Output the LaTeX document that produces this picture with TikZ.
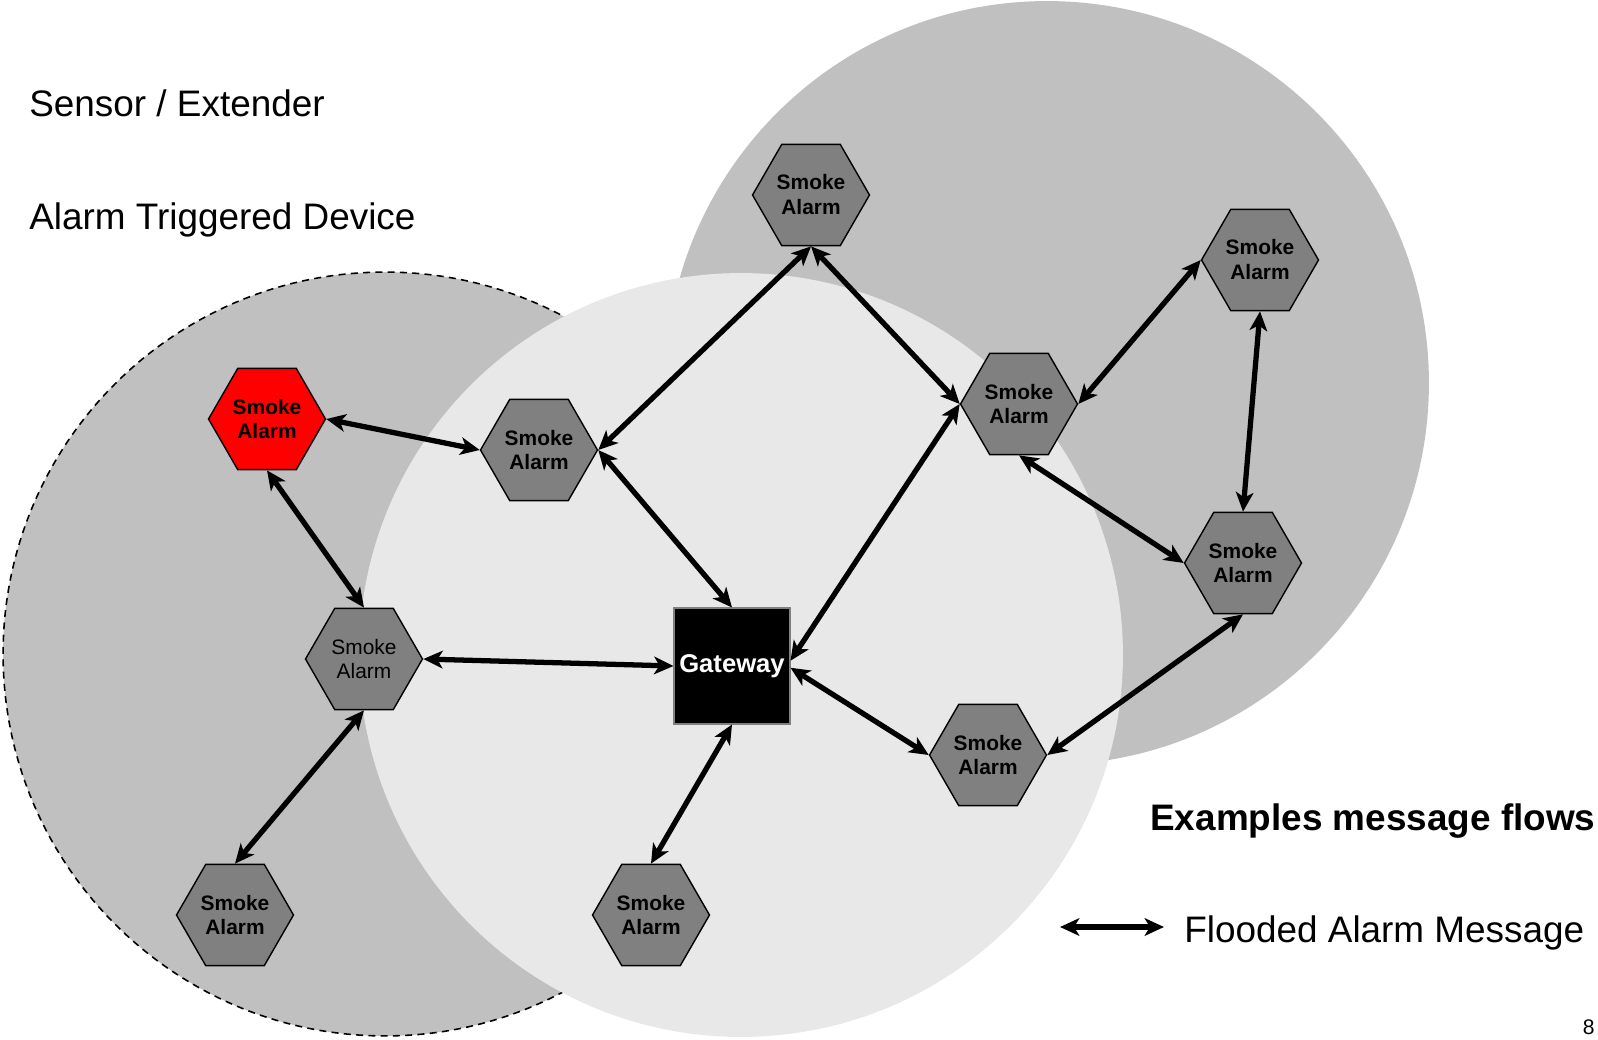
\documentclass[tikz,border=0pt]{standalone}
\usepackage{fontspec}
\setmainfont{Liberation Sans}
\usepackage{tikz}
\usetikzlibrary{arrows.meta, shapes.geometric}
\usepackage{xcolor}

\definecolor{zonedark}{HTML}{C0C0C0}
\definecolor{zonelight}{HTML}{E8E8E8}
\definecolor{hexgray}{HTML}{808080}

\begin{document}
\begin{tikzpicture}[
    x = 0.02cm, y = -0.02cm,
    hex/.style = {
        regular polygon, regular polygon sides = 6,
        draw = black, line width = 0.8pt,
        fill = hexgray,
        minimum size = 2.34cm,
        inner sep    = 0pt,
        align        = center,
        font = \fontsize{11.9}{14.2}\selectfont\bfseries
    },
    hexplain/.style = { hex, font = \fontsize{11.9}{14.2}\selectfont },
    hexalarm/.style = { hex, fill = red },
    gateway/.style  = {
        rectangle, draw = hexgray, line width = 0.6pt, fill = black,
        minimum size = 2.32cm, inner sep = 0pt,
        text = white, font = \fontsize{14.6}{17}\selectfont\bfseries
    },
    flow/.style = {
        <->, >={Stealth[length=11pt, width=10pt, inset=3pt]},
        line width = 3pt
    },
    legendtext/.style = {
        anchor = base west, inner sep = 0pt,
        font = \fontsize{21}{25}\selectfont
    },
]

\useasboundingbox (0,0) rectangle (1598,1040);

%% ── Coverage zones ───────────────────────────────────────────────────────
\fill[zonedark] (1047,383) circle[radius=7.64cm];
\filldraw[fill=zonedark, draw=black, line width=0.9pt, dash pattern=on 4pt off 3pt]
    (385,654) circle[radius=7.64cm];
\fill[zonelight] (741,655) circle[radius=7.64cm];

%% ── Devices ──────────────────────────────────────────────────────────────
\node[hexalarm] (trig)   at (267,419)  {Smoke\\Alarm};
\node[hex]      (mid)    at (539,450)  {Smoke\\Alarm};
\node[hex]      (top)    at (811,195)  {Smoke\\Alarm};
\node[hex]      (rmid)   at (1019,404) {Smoke\\Alarm};
\node[hex]      (rtop)   at (1260,260) {Smoke\\Alarm};
\node[hex]      (rlow)   at (1243,563) {Smoke\\Alarm};
\node[hex]      (bright) at (988,755)  {Smoke\\Alarm};
\node[hexplain] (ext)    at (364,659)  {Smoke\\Alarm};
\node[hex]      (bleft)  at (235,915)  {Smoke\\Alarm};
\node[hex]      (bmid)   at (651,915)  {Smoke\\Alarm};

\node[gateway] (gw) at (732,666) {Gateway};

%% ── Flooded alarm messages ───────────────────────────────────────────────
\draw[flow] (trig.east)  -- (mid.west);
\draw[flow] (trig.south) -- (ext.north);
\draw[flow] (mid.east)   -- (top.south);
\draw[flow] (mid.east)   -- (gw.north);
\draw[flow] (top.south)  -- (rmid.west);
\draw[flow] (rmid.west)  -- ([yshift=3pt]gw.east);
\draw[flow] (rmid.east)  -- (rtop.west);
\draw[flow] (rmid.south) -- (rlow.west);
\draw[flow] (rtop.south) -- (rlow.north);
\draw[flow] (rlow.south) -- (bright.east);
\draw[flow] (bright.west) -- ([yshift=-1pt]gw.east);
\draw[flow] (gw.west)    -- (ext.east);
\draw[flow] (gw.south)   -- (bmid.north);
\draw[flow] (ext.south)  -- (bleft.north);

%% ── Texts and legend ─────────────────────────────────────────────────────
\node[legendtext] (sens) at (29,117) {Sensor / Extender};
\node[legendtext] (trgd) at (29,230) {Alarm Triggered Device};
\node[legendtext, font=\fontsize{21}{25}\selectfont\bfseries] (exm) at (1150,830)
    {Examples message flows};

\coordinate (legl) at (1060,927);
\coordinate (legr) at (1164,927);
\draw[flow] (legl) -- (legr);
\node[legendtext] (flood) at (1184,942) {Flooded Alarm Message};

\node[anchor=base east, inner sep=0pt, font=\fontsize{12}{14}\selectfont] (page)
    at (1595,1034) {8};

\end{tikzpicture}
\end{document}
